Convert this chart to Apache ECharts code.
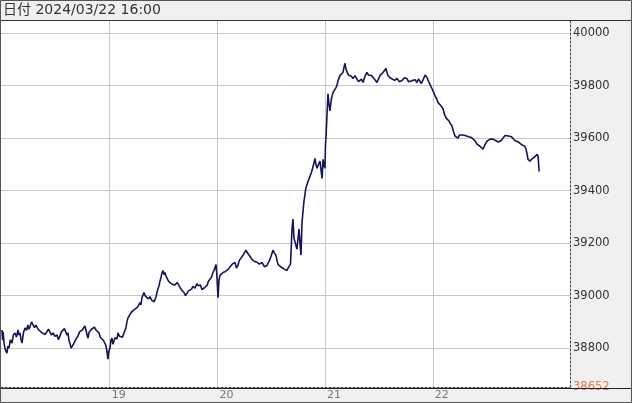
<!DOCTYPE html>
<html>
<head>
<meta charset="utf-8">
<script src="https://cdn.jsdelivr.net/npm/echarts/dist/echarts.min.js"></script>
<style>
html,body{margin:0;padding:0;background:#f0f0f0;}
#chart{width:632px;height:403px;}
</style>
</head>
<body>
<div id="chart"></div>
<script>
// ---- data (x in day-of-month units, y = price) ----
var headerText = '日付 2024/03/22 16:00';
var dayTicks = [19, 20, 21, 22];
var priceTicks = [38652, 38800, 39000, 39200, 39400, 39600, 39800, 40000];
var days = [
  18.000,18.006,18.011,18.019,18.030,18.046,18.055,18.065,18.078,18.093,18.105,18.121,18.135,18.149,18.158,18.167,18.176,18.186,18.200,18.214,
  18.228,18.241,18.250,18.260,18.274,18.288,18.302,18.316,18.335,18.353,18.367,18.381,18.400,18.418,18.432,18.446,18.460,18.474,18.492,18.511,
  18.525,18.539,18.552,18.566,18.580,18.594,18.603,18.613,18.622,18.631,18.641,18.650,18.664,18.678,18.692,18.706,18.720,18.734,18.748,18.761,
  18.770,18.780,18.790,18.799,18.808,18.817,18.831,18.845,18.859,18.873,18.887,18.901,18.915,18.929,18.942,18.956,18.965,18.975,18.980,18.984,
  18.993,19.003,19.012,19.021,19.030,19.040,19.049,19.058,19.068,19.077,19.091,19.105,19.119,19.133,19.142,19.151,19.160,19.170,19.184,19.198,
  19.212,19.226,19.240,19.253,19.267,19.281,19.290,19.300,19.309,19.318,19.332,19.346,19.360,19.374,19.388,19.402,19.412,19.421,19.430,19.439,
  19.448,19.458,19.467,19.476,19.485,19.495,19.504,19.513,19.522,19.532,19.546,19.560,19.574,19.588,19.606,19.625,19.639,19.653,19.671,19.690,
  19.704,19.718,19.732,19.746,19.760,19.773,19.792,19.811,19.820,19.829,19.843,19.857,19.880,19.903,19.917,19.931,19.945,19.959,19.973,19.987,
  19.995,20.006,20.015,20.024,20.038,20.052,20.075,20.099,20.118,20.136,20.150,20.163,20.177,20.191,20.200,20.210,20.224,20.238,20.252,20.266,
  20.275,20.284,20.302,20.321,20.345,20.368,20.391,20.414,20.438,20.461,20.475,20.488,20.502,20.516,20.530,20.544,20.553,20.563,20.582,20.600,
  20.623,20.646,20.656,20.665,20.679,20.693,20.702,20.711,20.721,20.730,20.739,20.748,20.758,20.767,20.776,20.786,20.795,20.804,20.813,20.822,
  20.832,20.846,20.860,20.874,20.888,20.897,20.906,20.915,20.925,20.939,20.953,20.962,20.972,20.981,20.990,20.999,21.004,21.008,21.018,21.027,
  21.036,21.045,21.059,21.073,21.087,21.101,21.110,21.120,21.129,21.138,21.152,21.166,21.176,21.185,21.194,21.203,21.217,21.231,21.245,21.259,
  21.278,21.296,21.310,21.324,21.338,21.352,21.370,21.389,21.403,21.417,21.431,21.445,21.463,21.482,21.496,21.510,21.524,21.538,21.552,21.565,
  21.575,21.584,21.603,21.621,21.645,21.668,21.691,21.714,21.737,21.760,21.774,21.788,21.802,21.816,21.835,21.853,21.867,21.881,21.895,21.909,
  21.928,21.946,21.955,21.965,21.979,21.993,22.002,22.011,22.020,22.030,22.040,22.049,22.062,22.076,22.086,22.095,22.109,22.123,22.137,22.150,
  22.164,22.178,22.192,22.206,22.220,22.234,22.248,22.262,22.272,22.281,22.300,22.318,22.332,22.345,22.359,22.373,22.392,22.410,22.424,22.438,
  22.452,22.466,22.485,22.503,22.517,22.531,22.545,22.559,22.578,22.596,22.610,22.624,22.638,22.652,22.671,22.689,22.703,22.717,22.731,22.745,
  22.764,22.782,22.796,22.810,22.824,22.838,22.852,22.866,22.875,22.884,22.894,22.903,22.917,22.931,22.945,22.959,22.968,22.978,22.987
];
var prices = [
  38869,38830,38862,38819,38795,38781,38808,38800,38832,38819,38850,38858,38842,38869,38850,38858,38835,38819,38860,38877,
  38868,38888,38872,38881,38900,38896,38878,38888,38872,38877,38860,38865,38852,38858,38872,38865,38850,38858,38845,38850,
  38832,38838,38862,38858,38875,38869,38850,38858,38830,38819,38800,38796,38815,38827,38838,38846,38862,38858,38870,38877,
  38885,38869,38850,38838,38860,38858,38872,38865,38880,38869,38862,38858,38840,38846,38830,38827,38810,38788,38770,38758,
  38790,38800,38830,38838,38815,38812,38840,38846,38835,38858,38845,38850,38842,38858,38868,38877,38900,38915,38925,38935,
  38930,38946,38940,38954,38962,38973,38965,38992,38998,39012,38998,39000,38988,38996,38984,38988,38976,38981,38995,39012,
  39025,39038,39055,39069,39085,39096,39080,39088,39075,39069,39055,39058,39045,39050,39040,39050,39042,39031,39020,39012,
  39000,39004,39018,39012,39025,39035,39028,39046,39038,39031,39040,39023,39030,39038,39055,39050,39070,39088,39100,39119,
  39080,38992,39060,39077,39070,39088,39092,39100,39110,39119,39112,39127,39105,39115,39130,39138,39135,39154,39160,39173,
  39165,39158,39150,39138,39130,39127,39120,39127,39110,39115,39122,39138,39155,39173,39162,39154,39135,39119,39112,39108,
  39100,39096,39105,39108,39120,39254,39292,39220,39204,39190,39177,39215,39254,39200,39154,39281,39319,39360,39385,39410,
  39423,39440,39446,39470,39492,39505,39523,39500,39485,39500,39512,39480,39446,39519,39495,39485,39580,39596,39692,39769,
  39730,39704,39750,39773,39780,39792,39800,39819,39825,39838,39845,39850,39870,39885,39862,39858,39840,39846,39835,39827,
  39838,39831,39815,39819,39825,39812,39835,39850,39840,39846,39838,39831,39822,39812,39825,39838,39842,39850,39855,39865,
  39850,39838,39830,39827,39820,39827,39815,39819,39830,39827,39815,39808,39818,39812,39822,39812,39825,39819,39808,39812,
  39840,39831,39822,39812,39800,39788,39780,39773,39762,39754,39745,39735,39730,39723,39718,39712,39690,39677,39672,39665,
  39655,39646,39625,39608,39605,39600,39612,39619,39612,39619,39610,39615,39605,39608,39602,39608,39590,39577,39575,39569,
  39562,39558,39575,39588,39592,39596,39590,39596,39592,39596,39585,39581,39592,39600,39610,39615,39608,39615,39605,39600,
  39590,39596,39585,39581,39575,39581,39570,39558,39540,39519,39525,39512,39520,39523,39528,39531,39538,39530,39473
];

var seriesData = days.map(function (d, i) { return [d, prices[i]]; });
var lowLabel = priceTicks[0];

var chart = echarts.init(document.getElementById('chart'), null, {renderer: 'canvas'});
chart.setOption({
  animation: false,
  backgroundColor: '#f0f0f0',
  title: {
    text: headerText,
    left: 3, top: 3, padding: 0,
    textStyle: {fontFamily: '"DejaVu Sans", "Noto Sans CJK JP", sans-serif', fontSize: 14, fontWeight: 'normal', color: '#333'}
  },
  grid: {left: 1, right: 62, top: 21, bottom: 16, show: true, backgroundColor: '#ffffff', borderWidth: 0},
  xAxis: {
    type: 'value', min: 17.991, max: 23.274,
    axisLine: {show: true, onZero: false, lineStyle: {color: '#444', width: 1, type: [2, 2]}},
    axisTick: {show: false, customValues: dayTicks},
    splitLine: {show: true, lineStyle: {color: '#c8c8c8', width: 1}},
    axisLabel: {
      customValues: dayTicks, margin: 3, align: 'left', padding: [0, 0, 0, 2],
      fontFamily: '"DejaVu Sans", sans-serif', fontSize: 11, color: '#777',
      formatter: function (v) { return String(Math.round(v)); }
    }
  },
  yAxis: {
    type: 'value', position: 'right', min: 38652, max: 40046, scale: true,
    axisLine: {show: true, lineStyle: {color: '#444', width: 1, type: [2, 2]}},
    axisTick: {show: false, customValues: priceTicks.slice(1)},
    splitLine: {show: true, lineStyle: {color: '#c8c8c8', width: 1}},
    axisLabel: {
      customValues: priceTicks, margin: 3, align: 'left',
      fontFamily: '"DejaVu Sans", sans-serif', fontSize: 11.5, color: '#333',
      formatter: function (v) { return v === lowLabel ? '{lo|' + v + '}' : String(v); },
      rich: {lo: {color: '#e0785f', fontFamily: '"DejaVu Sans", sans-serif', fontSize: 11.5}}
    }
  },
  series: [{
    type: 'line', data: seriesData, showSymbol: false, symbol: 'none',
    lineStyle: {color: '#15155a', width: 1.6}, z: 3
  }],
  graphic: [
    {type: 'line', shape: {x1: 0, y1: 20.5, x2: 632, y2: 20.5}, style: {stroke: '#333', lineWidth: 1}, z: 100},
    {type: 'line', shape: {x1: 0, y1: 388.5, x2: 632, y2: 388.5}, style: {stroke: '#222', lineWidth: 1}, z: 100},
    {type: 'rect', shape: {x: 0.5, y: 0.5, width: 631, height: 402}, style: {fill: null, stroke: '#555', lineWidth: 1}, z: 100}
  ]
});
</script>
</body>
</html>
